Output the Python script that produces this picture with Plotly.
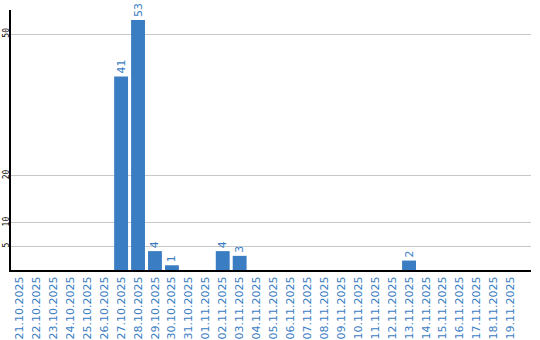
import plotly.graph_objects as go

dates = ["21.10.2025","22.10.2025","23.10.2025","24.10.2025","25.10.2025","26.10.2025",
         "27.10.2025","28.10.2025","29.10.2025","30.10.2025","31.10.2025","01.11.2025",
         "02.11.2025","03.11.2025","04.11.2025","05.11.2025","06.11.2025","07.11.2025",
         "08.11.2025","09.11.2025","10.11.2025","11.11.2025","12.11.2025","13.11.2025",
         "14.11.2025","15.11.2025","16.11.2025","17.11.2025","18.11.2025","19.11.2025"]
values = [0,0,0,0,0,0,41,53,4,1,0,0,4,3,0,0,0,0,0,0,0,0,0,2,0,0,0,0,0,0]
ytickvals = [5, 10, 20, 50]

blue = "#3a7dc2"
labels = [str(v) if v else "" for v in values]

fig = go.Figure(go.Bar(
    x=list(range(len(dates))), y=values, text=labels, textposition="outside",
    textangle=-90, textfont=dict(family="DejaVu Sans", size=11, color=blue),
    marker=dict(color=blue, line=dict(width=0)), width=0.82, cliponaxis=False,
))
fig.update_layout(
    width=540, height=340, margin=dict(l=11, r=9, t=10, b=70),
    plot_bgcolor="white", paper_bgcolor="white", showlegend=False,
    xaxis=dict(tickmode="array", tickvals=list(range(len(dates))), ticktext=dates,
               range=[-0.5, 30.2], tickangle=-90, showgrid=False, showline=True,
               linecolor="black", linewidth=2, ticks="",
               tickfont=dict(family="DejaVu Sans", size=11, color=blue), automargin=False),
    yaxis=dict(tickmode="array", tickvals=ytickvals, range=[0, 55.1], tickangle=-90,
               showgrid=True, gridcolor="#c8c8c8", gridwidth=1, showline=True,
               linecolor="black", linewidth=2, ticks="", zeroline=False,
               ticklabelstandoff=-3,
               tickfont=dict(family="DejaVu Sans Mono", size=8, color="black"), automargin=False),
    uniformtext=dict(minsize=8, mode="show"),
)
fig.write_html("out.html")
